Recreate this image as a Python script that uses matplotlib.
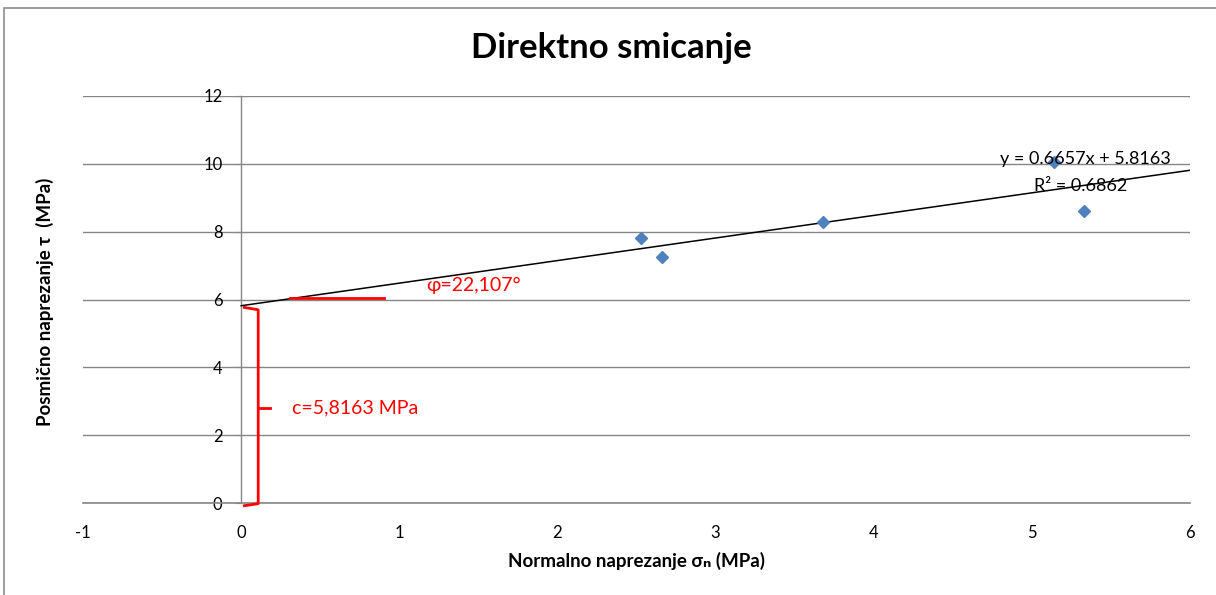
import numpy as np
import matplotlib.pyplot as plt
from matplotlib.patches import Rectangle

plt.rcParams['font.family'] = ['Lato', 'DejaVu Sans']

# izmjereni parovi (normalno naprezanje, posmično naprezanje) u MPa
sigma_n = [2.53, 2.66, 3.68, 5.14, 5.33]
tau = [7.80, 7.25, 8.28, 10.05, 8.62]

# linearni trend (Excel)
slope = 0.6657
intercept = 5.8163
r2 = 0.6862
phi_deg = 22.107

x_ticks = [-1, 0, 1, 2, 3, 4, 5, 6]
y_ticks = [0, 2, 4, 6, 8, 10, 12]

grid_col = '#868686'
red = '#ff0000'

fig = plt.figure(figsize=(12.16, 5.95), dpi=100)
W, H = 1216, 595
ax = fig.add_axes([83 / W, (H - 503) / H, (1190 - 83) / W, (503 - 96) / H])

# okvir grafikona
fig.patches.append(Rectangle((4 / W, -0.1), 1.2, (H - 8) / H + 0.1,
                             transform=fig.transFigure, fill=False,
                             edgecolor='#8c8c8c', linewidth=1.2))

ax.set_xlim(-1, 6)
ax.set_ylim(0, 12)
ax.set_xticks(x_ticks)
ax.set_yticks(y_ticks)
ax.set_xticklabels([str(v) for v in x_ticks])
ax.set_yticklabels([str(v) for v in y_ticks])

for s in ['top', 'right']:
    ax.spines[s].set_visible(False)
ax.spines['left'].set_position(('data', 0))
ax.spines['left'].set_color(grid_col)
ax.spines['bottom'].set_color(grid_col)
ax.spines['left'].set_linewidth(1.0)
ax.spines['bottom'].set_linewidth(1.2)

ax.yaxis.grid(True, color=grid_col, linewidth=1.0)
ax.set_axisbelow(True)
ax.tick_params(axis='y', direction='out', length=4.5, color=grid_col,
               pad=9, labelsize=12)
ax.tick_params(axis='x', length=0, pad=16, labelsize=12)

# linija trenda
xl = np.array([0, 6])
ax.plot(xl, slope * xl + intercept, color='black', linewidth=1.1, zorder=3)

# mjerne točke
ax.plot(sigma_n, tau, linestyle='none', marker='D', markersize=6.5,
        color='#4f81bd', markeredgecolor='#4f81bd', zorder=4)

ax.text(5.34, 10.13, f'y = {slope:.4f}x + {intercept:.4f}',
        ha='center', va='center', fontsize=13, zorder=5)
ax.text(5.31, 9.36, f'R² = {r2:.4f}', ha='center', va='center',
        fontsize=13, zorder=5)

# kut trenja
ax.plot([0.31, 0.905], [6.05, 6.05], color=red, linewidth=2, zorder=5)
ax.text(1.17, 6.4, f'φ={phi_deg:.3f}°'.replace('.', ','), color=red,
        fontsize=14, ha='left', va='center')

# kohezija - vitičasta zagrada od 0 do c
bx = 0.108
ax.plot([0.02, bx, bx, 0.02], [intercept - 0.05, intercept - 0.12, -0.02, -0.08],
        color=red, linewidth=2, clip_on=False, zorder=5)
ax.plot([bx, 0.18], [intercept / 2 - 0.1, intercept / 2 - 0.1], color=red,
        linewidth=2, zorder=5)
ax.text(0.32, intercept / 2 - 0.1, f'c={intercept:.4f} MPa'.replace('.', ','),
        color=red, fontsize=14, ha='left', va='center')

fig.text(611 / W, 1 - 48 / H, 'Direktno smicanje', ha='center', va='center',
         fontsize=25, fontweight='bold')
fig.text(637 / W, 1 - 561 / H, 'Normalno naprezanje σₙ (MPa)', ha='center',
         va='center', fontsize=13.5, fontweight='bold')
fig.text(45 / W, 1 - 302 / H, 'Posmično naprezanje τ  (MPa)', ha='center',
         va='center', fontsize=13.5, fontweight='bold', rotation=90)

fig.savefig('out.png', dpi=100)
